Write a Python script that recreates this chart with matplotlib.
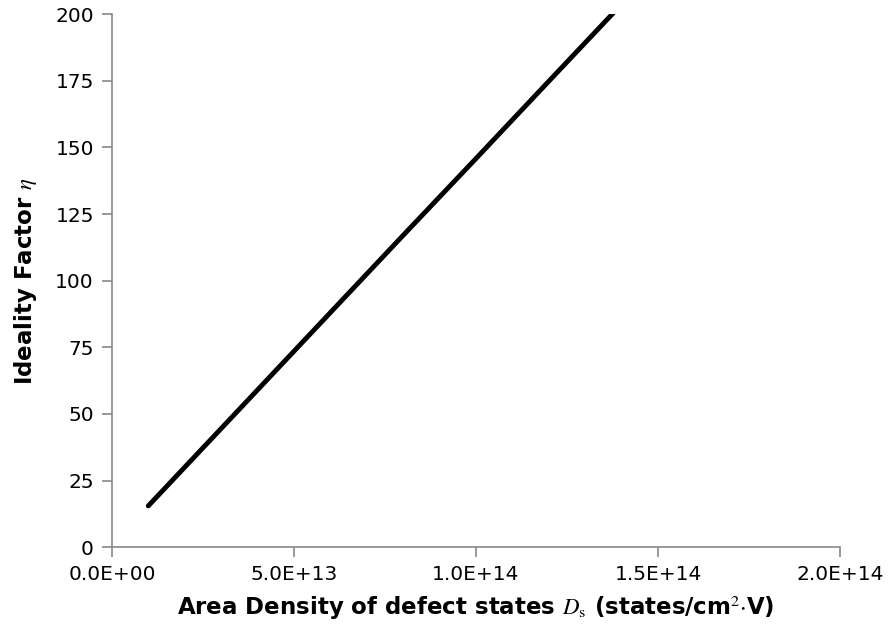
import matplotlib
matplotlib.use("Agg")
import matplotlib.pyplot as plt

# defect density (states/cm^2 V) vs ideality factor
ds_values = [1.0e13, 2.0e13, 4.0e13, 6.0e13, 8.0e13, 1.0e14, 1.2e14, 1.4e14]
eta_values = [15.5, 30.0, 59.0, 88.0, 117.0, 145.8, 174.8, 203.7]

x_ticks = [0, 5e13, 1e14, 1.5e14, 2e14]
x_tick_labels = ["0.0E+00", "5.0E+13", "1.0E+14", "1.5E+14", "2.0E+14"]
y_ticks = [0, 25, 50, 75, 100, 125, 150, 175, 200]

plt.rcParams['mathtext.fontset'] = 'stix'

fig = plt.figure(figsize=(8.88, 6.4), dpi=100)
ax = fig.add_axes([0.126, 0.145, 0.820, 0.833])

ax.plot(ds_values, eta_values, color='black', linewidth=3.5, solid_capstyle='round')

ax.set_xlim(0, 2e14)
ax.set_ylim(0, 200)
ax.set_xticks(x_ticks)
ax.set_xticklabels(x_tick_labels)
ax.set_yticks(y_ticks)

for side in ['top', 'right']:
    ax.spines[side].set_visible(False)
for side in ['left', 'bottom']:
    ax.spines[side].set_color('#888888')
    ax.spines[side].set_linewidth(1.2)

ax.tick_params(axis='both', colors='#888888', length=7, width=1.2, labelsize=14.5,
               labelcolor='black', pad=6)

ax.set_xlabel(r"Area Density of defect states $D_\mathrm{s}$ (states/cm$^2$$\cdot$V)",
              fontsize=16.5, fontweight='bold', labelpad=7)
ax.set_ylabel(r"Ideality Factor $\eta$", fontsize=16.5, fontweight='bold', labelpad=12)

fig.savefig("out.png", dpi=100)
plt.close()
